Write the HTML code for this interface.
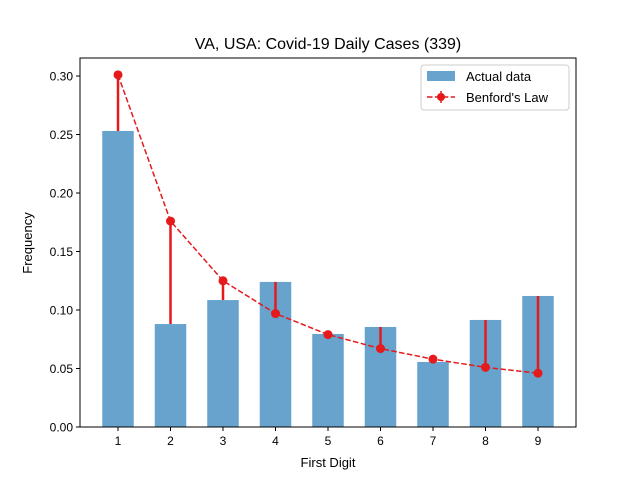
<!DOCTYPE html>
<html><head><meta charset="utf-8"><style>
body{margin:0;background:#fff;}
svg{font-family:"Liberation Sans","DejaVu Sans",sans-serif;}
</style></head><body>
<svg id="chart" width="640" height="480" xmlns="http://www.w3.org/2000/svg">
<rect width="640" height="480" fill="#fff"/>
<text x="328" y="49" font-size="16" text-anchor="middle">VA, USA: Covid-19 Daily Cases (339)</text>
<g id="marks"></g>
<g id="axes"></g>
<rect x="80" y="58" width="496" height="369" fill="none" stroke="#000" stroke-width="1"/>
<text x="328" y="467" font-size="13" text-anchor="middle">First Digit</text>
<text x="32" y="243" font-size="13" text-anchor="middle" transform="rotate(-90 32 243)">Frequency</text>
<g>
<rect x="421" y="65" width="148" height="45" rx="3" fill="#fff" fill-opacity="0.8" stroke="#ccc"/>
<rect x="427" y="71" width="28" height="10" fill="#1f77b4" fill-opacity="0.68"/>
<text x="466" y="81" font-size="13">Actual data</text>
<line x1="427" y1="97" x2="455" y2="97" stroke="#e41a1c" stroke-width="1.5" stroke-dasharray="5.5,2.4"/>
<line x1="441" y1="91" x2="441" y2="103" stroke="#e41a1c" stroke-width="1.5"/>
<circle cx="441" cy="97" r="4" fill="#e41a1c"/>
<text x="466" y="102" font-size="13">Benford's Law</text>
</g>
</svg>
<script>
const digits=[1,2,3,4,5,6,7,8,9];
const actual=[0.253,0.088,0.1085,0.124,0.0795,0.0855,0.0556,0.0915,0.112];
const benford=[0.301,0.176,0.125,0.097,0.079,0.067,0.058,0.051,0.046];
const yTicks=[0,0.05,0.10,0.15,0.20,0.25,0.30];
const yTickLabels=["0.00","0.05","0.10","0.15","0.20","0.25","0.30"];
const NS="http://www.w3.org/2000/svg";
const X0=80,X1=576,Y0=427,Y1=58,xmin=0.276,xmax=9.724,ymin=0,ymax=0.3154;
function xs(v){return X0+(v-xmin)/(xmax-xmin)*(X1-X0);}
function ys(v){return Y0-(v-ymin)/(ymax-ymin)*(Y0-Y1);}
function mk(t,a,p){const e=document.createElementNS(NS,t);for(const k in a)e.setAttribute(k,a[k]);p.appendChild(e);return e;}
const marks=document.getElementById('marks'),axes=document.getElementById('axes');
digits.forEach((d,i)=>{
 const b=mk('rect',{x:xs(d-0.3),y:ys(actual[i]),width:xs(d+0.3)-xs(d-0.3),height:ys(0)-ys(actual[i]),fill:'#1f77b4','fill-opacity':0.68},marks);
 
 
});
digits.forEach((d,i)=>{
 const e=mk('line',{x1:xs(d),x2:xs(d),y1:ys(benford[i]),y2:ys(actual[i]),stroke:'#e41a1c','stroke-width':2.5},marks);
 
 
});
const pl=mk('polyline',{points:digits.map((d,i)=>xs(d)+','+ys(benford[i])).join(' '),fill:'none',stroke:'#e41a1c','stroke-width':1.5,'stroke-dasharray':'5.5,2.4'},marks);


digits.forEach((d,i)=>{
 const c=mk('circle',{cx:xs(d),cy:ys(benford[i]),r:4.5,fill:'#e41a1c'},marks);
 
 
});
digits.forEach(d=>{
 mk('line',{x1:xs(d),x2:xs(d),y1:Y0,y2:Y0+4,stroke:'#000'},axes);
 const t=mk('text',{x:xs(d),y:Y0+18,'font-size':12,'text-anchor':'middle'},axes);t.textContent=d;
 
 
});
yTicks.forEach((v,i)=>{
 mk('line',{x1:X0-4,x2:X0,y1:ys(v),y2:ys(v),stroke:'#000'},axes);
 const t=mk('text',{x:X0-7,y:ys(v)+4.5,'font-size':12,'text-anchor':'end'},axes);t.textContent=yTickLabels[i];
 
 
});
</script>
</body></html>
